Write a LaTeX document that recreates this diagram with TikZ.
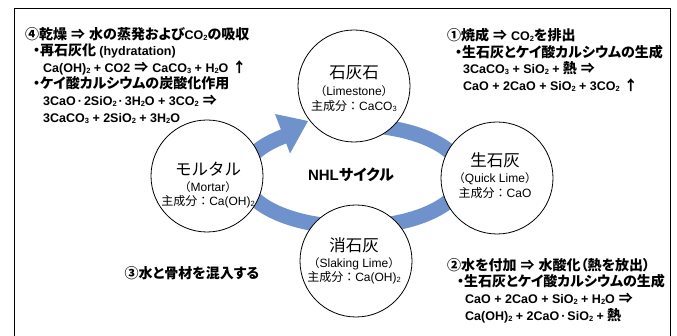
\documentclass[tikz,border=0pt]{standalone}
\usepackage{fontspec}
\setmainfont{Noto Sans CJK JP}
\newfontfamily\jpp{Noto Sans CJK JP}[RawFeature=+palt]
\newfontfamily\lat{Liberation Sans}
\definecolor{ringblue}{RGB}{112,146,204}
\newcommand\sbs[1]{\raisebox{-0.15ex}{\fontsize{7.5}{7.5}\selectfont #1}}
\newcommand\la[1]{{\lat\fontsize{12.5}{16.6}\selectfont #1}}
\newcommand\imp{\hspace{4pt}{\jpp ⇒}\hspace{4pt}}
\newcommand\uarr{\hspace{4pt}{\jpp ↑}}
\newcommand\mdot{\hspace{2pt}·\hspace{2pt}}
\newcommand\stagetext[6]{%
  \node[ctitle] (#1t) at (#2,#3) {#4};
  \node[cen] (#1e) at (#2,#3+18.5) {#5};
  \node[ccomp] (#1c) at (#2,#3+33) {#6};}
\begin{document}
\begin{tikzpicture}[x=1pt,y=-1pt,
  stage/.style={circle,draw,fill=white,minimum size=112pt,inner sep=0pt,line width=0.8pt},
  ctitle/.style={inner sep=0pt,font=\fontsize{16.5}{18}\selectfont},
  cen/.style={inner sep=0pt,font=\fontsize{11.5}{13}\selectfont},
  ccomp/.style={inner sep=0pt,font=\fontsize{12}{14}\selectfont},
  note/.style={anchor=north west,align=left,inner sep=0pt,font=\jpp\bfseries\fontsize{14}{16.6}\selectfont},
  ring/.style={draw=ringblue,line width=15pt}]
\useasboundingbox (0,0) rectangle (677,336);
\draw[line width=0.8pt] (14,8) rectangle (670,350);
% cycle ring
\draw[ring] plot[domain=128:450,samples=150,smooth] ({353+110*cos(\x)},{176-51*sin(\x)});
\fill[ringblue] (275,114) -- (308,121) -- (290,153.5) -- cycle;
% stages
\node[stage] (limestone) at (354,86) {};
\node[stage] (mortar) at (207,176) {};
\node[stage] (quick) at (497,178) {};
\node[stage] (slaking) at (356,261) {};
\stagetext{limestone}{354}{73}{石灰石}{（{\lat\fontsize{12}{13}\selectfont Limestone}）}{主成分：{\lat CaCO\sbs{3}}}
\stagetext{mortar}{208}{169}{モルタル}{（{\lat\fontsize{12}{13}\selectfont Mortar}）}{主成分：{\lat Ca(OH)\sbs{2}}}
\stagetext{quick}{495}{160}{生石灰}{（{\lat\fontsize{12}{13}\selectfont Quick Lime}）}{主成分：{\lat CaO}}
\stagetext{slaking}{354}{245}{消石灰}{（{\lat\fontsize{12}{13}\selectfont Slaking Lime}）}{主成分：{\lat Ca(OH)\sbs{2}}}
\node[inner sep=0pt,font=\jpp\bfseries\fontsize{15}{17}\selectfont] (nhl) at (351,175) {{\lat NHL}サイクル};
% notes
\node[note] (n4) at (25,27) {④乾燥\imp 水の蒸発および\la{CO\sbs{2}}の吸収\\
\hspace*{8pt}・再石灰化 \la{(hydratation)}\\
\hspace*{18pt}\la{Ca(OH)\sbs{2} + CO2}\imp\la{CaCO\sbs{3} + H\sbs{2}O}\uarr\\
\hspace*{8pt}・ケイ酸カルシウムの炭酸化作用\\
\hspace*{18pt}\la{3CaO\mdot 2SiO\sbs{2}\mdot 3H\sbs{2}O + 3CO\sbs{2}}\imp\\
\hspace*{18pt}\la{3CaCO\sbs{3} + 2SiO\sbs{2} + 3H\sbs{2}O}};
\node[note] (n1) at (447,28) {①焼成\imp\la{CO\sbs{2}}を排出\\
\hspace*{8pt}・生石灰とケイ酸カルシウムの生成\\
\hspace*{16pt}\la{3CaCO\sbs{3} + SiO\sbs{2} +} 熱\imp\\
\hspace*{16pt}\la{CaO + 2CaO + SiO\sbs{2} + 3CO\sbs{2}}\uarr};
\node[note] (n2) at (447,258) {②水を付加\imp 水酸化（熱を放出）\\
\hspace*{10pt}・生石灰とケイ酸カルシウムの生成\\
\hspace*{18pt}\la{CaO + 2CaO + SiO\sbs{2} + H\sbs{2}O}\imp\\
\hspace*{18pt}\la{Ca(OH)\sbs{2} + 2CaO\mdot SiO\sbs{2} +} 熱};
\node[inner sep=0pt,font=\jpp\bfseries\fontsize{14}{16}\selectfont] (n3) at (192,273) {③水と骨材を混入する};
\end{tikzpicture}
\end{document}
